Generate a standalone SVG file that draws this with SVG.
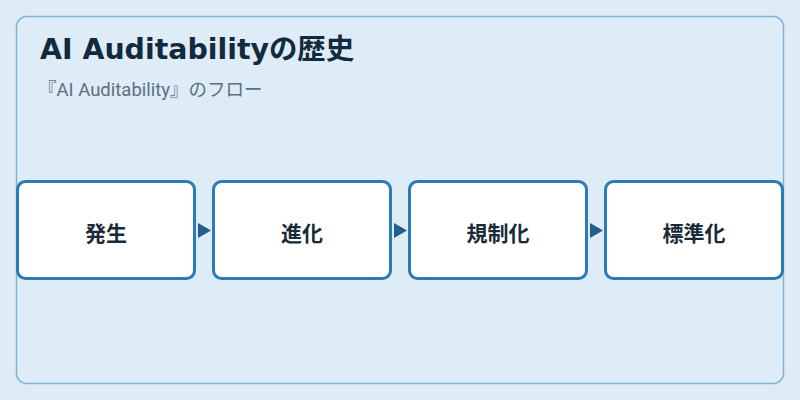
<svg xmlns="http://www.w3.org/2000/svg" width="800" height="400" viewBox="0 0 800 400">
<defs>
<style>
.node rect{fill:#fff;stroke:#2b7bb4;stroke-width:3}
.node text{font-family:"Noto Sans CJK JP","Noto Sans",sans-serif;font-size:21px;font-weight:bold;fill:#1a2a38;text-anchor:middle}
.arr{fill:#1f5f8e}
</style>
</defs>
<rect width="800" height="400" fill="#ddecf7"/>
<rect x="16.5" y="16.5" width="767" height="367" rx="10" fill="#ddecf7" stroke="#7fb4d6" stroke-width="1.5"/>
<text x="40" y="59" font-family="'DejaVu Sans','Noto Sans CJK JP',sans-serif" font-size="28.4" font-weight="bold" fill="#13293d">AI Auditabilityの歴史</text>
<text x="38" y="96" font-family="Roboto,'Noto Sans CJK JP',sans-serif" font-size="18.5" fill="#5b6f80">『AI Auditability』のフロー</text>
<g id="connectors">
<polygon class="arr" points="198,223 211,230.5 198,238"/>
<polygon class="arr" points="394,223 407,230.5 394,238"/>
<polygon class="arr" points="590,223 603,230.5 590,238"/>
</g>
<g id="n1" class="node"><rect x="17.5" y="181.5" width="177" height="97" rx="8"/><text x="106" y="241">発生</text></g>
<g id="n2" class="node"><rect x="213.5" y="181.5" width="177" height="97" rx="8"/><text x="302" y="241">進化</text></g>
<g id="n3" class="node"><rect x="409.5" y="181.5" width="177" height="97" rx="8"/><text x="498" y="241">規制化</text></g>
<g id="n4" class="node"><rect x="605.5" y="181.5" width="177" height="97" rx="8"/><text x="694" y="241">標準化</text></g>
</svg>
